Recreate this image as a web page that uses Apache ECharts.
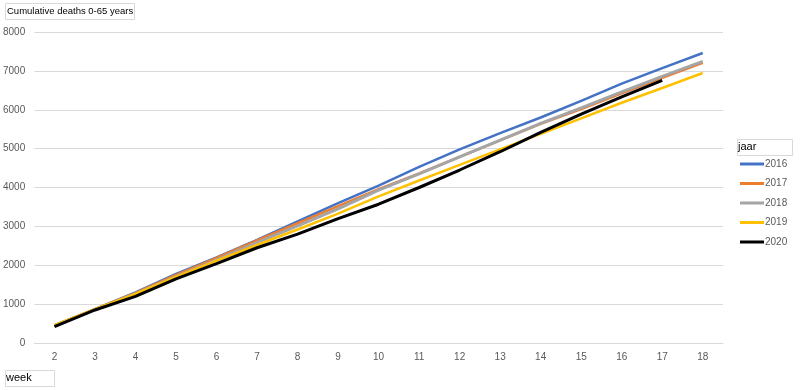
<!DOCTYPE html>
<html>
<head>
<meta charset="utf-8">
<script src="https://cdn.jsdelivr.net/npm/echarts@6/dist/echarts.min.js"></script>
<style>html,body{margin:0;padding:0;background:#fff}#c{width:800px;height:390px}</style>
</head>
<body>
<div id="c"></div>
<script>
const weeks = ['2','3','4','5','6','7','8','9','10','11','12','13','14','15','16','17','18'];
const s2016 = [450, 870, 1300, 1780, 2200, 2650, 3130, 3600, 4050, 4530, 4980, 5400, 5800, 6230, 6670, 7070, 7460];
const s2017 = [450, 870, 1290, 1750, 2190, 2640, 3080, 3520, 3960, 4360, 4790, 5210, 5640, 6020, 6420, 6820, 7210];
const s2018 = [450, 860, 1270, 1710, 2140, 2580, 3010, 3450, 3930, 4350, 4790, 5220, 5650, 6050, 6460, 6860, 7244];
const s2019 = [460, 870, 1260, 1700, 2120, 2520, 2920, 3330, 3770, 4180, 4580, 4980, 5380, 5780, 6180, 6560, 6945];
const s2020 = [420, 850, 1200, 1650, 2040, 2450, 2800, 3200, 3570, 4000, 4450, 4920, 5420, 5890, 6330, 6755];
const seriesNames = ['2016','2017','2018','2019','2020'];
const colors = ['#4472C4','#ED7D31','#A5A5A5','#FFC000','#000000'];
const widths = [2.5, 2.5, 3, 2.5, 3];
const yTicks = [0,1000,2000,3000,4000,5000,6000,7000,8000];

const data = [s2016, s2017, s2018, s2019, s2020];
const chart = echarts.init(document.getElementById('c'), null, {renderer:'canvas'});
const font = 'Liberation Sans, Arial, sans-serif';
chart.setOption({
  animation: false,
  backgroundColor: '#fff',
  grid: {left: 33, right: 77, top: 32, bottom: 47},
  xAxis: {
    type: 'category', data: weeks, boundaryGap: true,
    axisLine: {show: true, lineStyle: {color: '#d9d9d9'}},
    axisTick: {show: false},
    axisLabel: {color: '#595959', fontSize: 10, fontFamily: font, margin: 9}
  },
  yAxis: {
    type: 'value', min: yTicks[0], max: yTicks[yTicks.length-1], interval: 1000,
    axisLine: {show: false}, axisTick: {show: false},
    axisLabel: {color: '#595959', fontSize: 10, fontFamily: font, margin: 9, formatter: v => String(v)},
    splitLine: {lineStyle: {color: '#d9d9d9', width: 1}}
  },
  legend: {
    orient: 'vertical', left: 735, top: 154,
    itemWidth: 24, itemHeight: 3, itemGap: 9.5, icon: 'rect',
    textStyle: {color: '#595959', fontSize: 10, fontFamily: font, padding: [0,0,0,-4]},
    data: seriesNames
  },
  graphic: [
    {type:'rect', left: 5, top: 3, shape:{width:129, height:16}, style:{fill:'#fff', stroke:'#d9d9d9', lineWidth:1}},
    {type:'text', left: 7, top: 6, style:{text:'Cumulative deaths 0-65 years', fill:'#000', font:'9.5px ' + font}},
    {type:'rect', left: 5, top: 370, shape:{width:49, height:16}, style:{fill:'#fff', stroke:'#d9d9d9', lineWidth:1}},
    {type:'text', left: 6, top: 372, style:{text:'week', fill:'#000', font:'11px ' + font}},
    {type:'rect', left: 737, top: 139, shape:{width:55, height:16}, style:{fill:'#fff', stroke:'#d9d9d9', lineWidth:1}},
    {type:'text', left: 738, top: 141, style:{text:'jaar', fill:'#000', font:'11px ' + font}}
  ],
  series: seriesNames.map((n,i) => ({
    name: n, type: 'line', data: data[i], symbol: 'none', smooth: false,
    color: colors[i],
    lineStyle: {color: colors[i], width: widths[i]},
    itemStyle: {color: colors[i]}
  }))
});
</script>
</body>
</html>
